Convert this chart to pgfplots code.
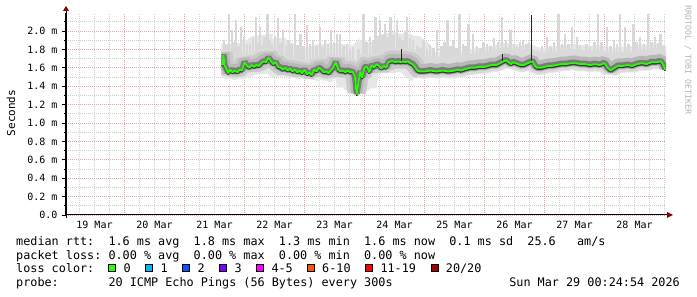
\documentclass[border=0pt]{standalone}
\usepackage{pgfplots}
\pgfplotsset{compat=1.18}
\usepackage{pgfplotstable}
\usepackage{fontspec}
\newfontfamily\dvm{DejaVu Sans Mono}
\newcommand\tickfont{\dvm\fontsize{10}{12}\selectfont}
\newcommand\legfont{\dvm\fontsize{11.8}{14}\selectfont}
\definecolor{rrdgreen}{HTML}{26FF00}
\definecolor{gridred}{HTML}{E8A4A4}
\definecolor{gridgray}{HTML}{CFCFCF}
\definecolor{arrowred}{HTML}{8B0000}
\definecolor{spikegray}{HTML}{D8D8D8}
\definecolor{palesmoke}{HTML}{E6E6E6}
\definecolor{lightsmoke}{HTML}{DADADA}
\definecolor{midsmoke}{HTML}{B8B8B8}
\definecolor{darksmoke}{HTML}{7A7A7A}
\definecolor{lossA}{HTML}{26FF00}
\definecolor{lossB}{HTML}{00B8FF}
\definecolor{lossC}{HTML}{0059FF}
\definecolor{lossD}{HTML}{7E00FF}
\definecolor{lossE}{HTML}{FF00FF}
\definecolor{lossF}{HTML}{FF5500}
\definecolor{lossG}{HTML}{FF0000}
\definecolor{lossH}{HTML}{A10000}
\definecolor{wmark}{HTML}{B4B4B4}

\pgfplotstableread{
d med
2.62 1.63
2.635 1.64
2.65 1.74
2.67 1.62
2.70 1.58
2.73 1.54
2.76 1.58
2.80 1.55
2.84 1.57
2.88 1.55
2.92 1.58
2.96 1.57
3.00 1.66
3.04 1.62
3.08 1.60
3.12 1.63
3.16 1.61
3.20 1.63
3.24 1.62
3.28 1.65
3.32 1.67
3.36 1.66
3.40 1.71
3.44 1.67
3.48 1.64
3.52 1.66
3.56 1.61
3.60 1.60
3.64 1.58
3.68 1.60
3.72 1.57
3.76 1.59
3.80 1.56
3.84 1.58
3.88 1.55
3.92 1.57
3.96 1.54
4.00 1.58
4.04 1.53
4.08 1.55
4.12 1.52
4.16 1.58
4.20 1.56
4.24 1.60
4.28 1.58
4.32 1.55
4.36 1.56
4.40 1.54
4.44 1.57
4.48 1.60
4.52 1.66
4.56 1.58
4.60 1.56
4.64 1.57
4.68 1.55
4.72 1.57
4.76 1.55
4.80 1.56
4.84 1.50
4.87 1.31
4.90 1.44
4.93 1.56
4.96 1.49
5.00 1.60
5.04 1.61
5.08 1.55
5.12 1.63
5.16 1.60
5.20 1.64
5.24 1.62
5.28 1.59
5.32 1.62
5.36 1.60
5.40 1.66
5.44 1.67
5.48 1.67
5.52 1.66
5.56 1.67
5.60 1.66
5.64 1.67
5.68 1.66
5.72 1.67
5.76 1.65
5.80 1.64
5.84 1.61
5.88 1.57
5.92 1.56
6.00 1.56
6.10 1.57
6.20 1.56
6.30 1.57
6.40 1.56
6.50 1.57
6.56 1.58
6.60 1.57
6.70 1.59
6.76 1.60
6.84 1.60
6.90 1.61
7.00 1.61
7.06 1.62
7.12 1.63
7.20 1.63
7.26 1.65
7.32 1.67
7.36 1.68
7.40 1.66
7.44 1.64
7.48 1.66
7.52 1.65
7.56 1.64
7.60 1.63
7.66 1.63
7.72 1.65
7.76 1.66
7.80 1.67
7.84 1.62
7.88 1.60
7.94 1.60
8.00 1.61
8.06 1.62
8.12 1.62
8.20 1.63
8.28 1.64
8.36 1.64
8.44 1.65
8.52 1.65
8.60 1.64
8.68 1.64
8.76 1.63
8.84 1.64
8.92 1.63
9.00 1.65
9.05 1.60
9.10 1.57
9.15 1.59
9.22 1.62
9.30 1.62
9.38 1.63
9.46 1.62
9.54 1.64
9.62 1.65
9.70 1.64
9.78 1.66
9.86 1.66
9.94 1.67
9.98 1.63
10.01 1.58
}\median

% spikes: top value t and downward length v (to about 1.60)
\pgfplotstableread{
d t v
2.66 1.90 -0.30
2.70 1.85 -0.25
2.74 2.18 -0.58
2.79 2.01 -0.41
2.83 1.88 -0.28
2.86 2.12 -0.52
2.90 1.84 -0.24
2.94 2.04 -0.44
2.99 1.93 -0.33
3.04 1.86 -0.26
3.09 1.86 -0.26
3.14 1.92 -0.32
3.19 2.15 -0.55
3.23 1.88 -0.28
3.26 2.04 -0.44
3.30 1.85 -0.25
3.33 1.94 -0.34
3.38 2.18 -0.58
3.42 1.90 -0.30
3.46 1.86 -0.26
3.51 1.95 -0.35
3.56 2.14 -0.54
3.60 1.87 -0.27
3.64 2.01 -0.41
3.69 1.84 -0.24
3.73 1.90 -0.30
3.78 1.86 -0.26
3.84 2.18 -0.58
3.88 1.85 -0.25
3.93 1.97 -0.37
3.98 1.84 -0.24
4.04 2.07 -0.47
4.09 1.86 -0.26
4.14 1.90 -0.30
4.20 1.85 -0.25
4.26 2.04 -0.44
4.30 1.83 -0.23
4.34 1.90 -0.30
4.39 1.86 -0.26
4.44 2.01 -0.41
4.49 1.88 -0.28
4.54 1.97 -0.37
4.59 1.97 -0.37
4.65 1.84 -0.24
4.71 1.86 -0.26
4.76 1.80 -0.20
4.81 1.83 -0.23
4.90 1.80 -0.20
4.98 2.18 -0.58
5.03 1.88 -0.28
5.09 1.94 -0.34
5.14 1.90 -0.30
5.18 2.15 -0.55
5.22 1.95 -0.35
5.26 2.12 -0.52
5.30 1.96 -0.36
5.34 2.08 -0.48
5.38 1.94 -0.34
5.43 2.15 -0.55
5.48 1.96 -0.36
5.54 2.12 -0.52
5.58 1.93 -0.33
5.63 1.90 -0.30
5.67 2.00 -0.40
5.71 2.15 -0.55
5.76 1.92 -0.32
5.81 1.90 -0.30
5.88 1.84 -0.24
5.93 1.82 -0.22
5.98 1.90 -0.30
6.04 1.80 -0.20
6.09 1.85 -0.25
6.15 1.82 -0.22
6.21 2.01 -0.41
6.28 1.84 -0.24
6.33 1.88 -0.28
6.38 2.12 -0.52
6.43 1.84 -0.24
6.48 1.90 -0.30
6.53 1.82 -0.22
6.58 2.18 -0.58
6.64 1.86 -0.26
6.68 1.84 -0.24
6.73 2.08 -0.48
6.81 1.97 -0.37
6.87 1.84 -0.24
6.93 1.82 -0.22
6.98 1.88 -0.28
7.04 1.86 -0.26
7.10 1.84 -0.24
7.16 1.92 -0.32
7.22 1.88 -0.28
7.29 2.15 -0.55
7.36 1.90 -0.30
7.43 2.01 -0.41
7.49 1.86 -0.26
7.54 1.83 -0.23
7.59 1.88 -0.28
7.64 1.90 -0.30
7.70 1.86 -0.26
7.74 1.88 -0.28
7.89 1.79 -0.19
7.96 1.84 -0.24
8.04 1.94 -0.34
8.10 1.84 -0.24
8.16 1.88 -0.28
8.23 2.18 -0.58
8.29 1.86 -0.26
8.34 1.97 -0.37
8.40 1.86 -0.26
8.46 2.04 -0.44
8.54 1.94 -0.34
8.59 1.84 -0.24
8.64 1.79 -0.19
8.70 1.86 -0.26
8.76 1.84 -0.24
8.83 1.88 -0.28
8.89 2.18 -0.58
8.95 1.88 -0.28
9.04 2.04 -0.44
9.10 1.84 -0.24
9.16 1.90 -0.30
9.21 1.86 -0.26
9.26 2.18 -0.58
9.34 2.04 -0.44
9.40 1.86 -0.26
9.48 2.08 -0.48
9.53 1.88 -0.28
9.59 1.94 -0.34
9.66 1.86 -0.26
9.72 2.18 -0.58
9.78 1.88 -0.28
9.84 1.94 -0.34
9.89 1.86 -0.26
9.93 1.97 -0.37
9.98 1.84 -0.24
}\spikes

\pgfplotstableread{
d t v
5.61 1.81 -0.17
7.30 1.75 -0.10
7.78 2.17 -0.50
}\darkspikes

\begin{document}
\begin{tikzpicture}[x=1pt,y=1pt]
\path (0,0) rectangle (697,297);
\begin{axis}[
  at={(66pt,82pt)}, anchor=south west,
  scale only axis, width=600pt, height=202pt,
  xmin=0.025, xmax=10.025, ymin=0, ymax=2.196,
  axis x line*=bottom, axis y line*=left,
  axis line style={black, line width=1pt},
  xtick={1,2,3,4,5,6,7,8,9}, xticklabels={},
  minor xtick={0.25,0.5,...,10},
  extra x ticks={0.5,1.5,2.5,3.5,4.5,5.5,6.5,7.5,8.5,9.5},
  extra x tick labels={19 Mar,20 Mar,21 Mar,22 Mar,23 Mar,24 Mar,25 Mar,26 Mar,27 Mar,28 Mar},
  extra x tick style={grid=none, major tick length=0pt},
  xtick style={draw=none},
  xticklabel style={yshift=-3pt},
  ytick={0,0.2,0.4,0.6,0.8,1.0,1.2,1.4,1.6,1.8,2.0},
  yticklabels={0.0,0.2 m,0.4 m,0.6 m,0.8 m,1.0 m,1.2 m,1.4 m,1.6 m,1.8 m,2.0 m},
  minor ytick={0.1,0.3,0.5,0.7,0.9,1.1,1.3,1.5,1.7,1.9,2.1},
  grid=both,
  major grid style={gridred, dash pattern=on 1pt off 1pt, line width=0.8pt},
  minor grid style={gridgray, dash pattern=on 1pt off 1pt, line width=0.8pt},
  ytick style={black, line width=0.8pt},
  tick align=outside,
  major tick length=4pt, minor tick length=2pt,
  ticklabel style={font=\tickfont},
  yticklabel style={xshift=-1pt},
  clip=true,
]
\begin{scope}
\clip (axis cs:2.615,0) rectangle (axis cs:10.03,2.196);
% smoke: widest pale layer (more scatter before 25 Mar)
\addplot[restrict x to domain=2.6:5.95, palesmoke, line width=40pt, line join=bevel, yshift=9pt]
  table[x=d, y=med] {\median};
\addplot[palesmoke, line width=26pt, line join=bevel, yshift=6pt]
  table[x=d, y=med] {\median};
% light gray spikes (max of the pings)
\addplot[spikegray, line width=2.4pt, mark=none, forget plot,
  quiver={u=0, v=\thisrow{v}}]
  table[x=d, y=t] {\spikes};
% smoke layers around the median
\addplot[lightsmoke, line width=20pt, line join=bevel, yshift=4pt]
  table[x=d, y=med] {\median};
\addplot[restrict x to domain=2.6:5.95, midsmoke!75!white, line width=18pt, line join=bevel, yshift=2pt]
  table[x=d, y=med] {\median};
\addplot[midsmoke, line width=11pt, line join=bevel, yshift=2pt]
  table[x=d, y=med] {\median};
\addplot[darksmoke, line width=6pt, line join=bevel, yshift=0.5pt]
  table[x=d, y=med] {\median};
\addplot[black!85, line width=1.2pt, mark=none, forget plot,
  quiver={u=0, v=\thisrow{v}}]
  table[x=d, y=t] {\darkspikes};
\addplot[black!80, line width=1.6pt, line join=bevel, yshift=-1.2pt]
  table[x=d, y=med] {\median};
% median rtt
\addplot[rrdgreen, line width=1.8pt, line join=bevel]
  table[x=d, y=med] {\median};
\end{scope}
\end{axis}
% axis extensions and arrow heads
\draw[black, line width=1pt] (66,79) -- (66,288);
\draw[black, line width=1pt] (662,82) -- (668,82);
\fill[arrowred] (63,286) -- (69,286) -- (66,291) -- cycle;
\fill[arrowred] (667,85) -- (667,79) -- (673,82) -- cycle;
% labels
\node[rotate=90, font=\dvm\fontsize{11}{13}\selectfont] at (11,184) {Seconds};
\node[rotate=-90, font=\dvm\fontsize{8.3}{10}\selectfont, text=wmark] at (688,237) {RRDTOOL / TOBI OETIKER};
% legend lines
\newcommand\seg[3]{\node[anchor=base west, inner sep=0pt, font=\legfont] at ({16+7.1*#1},#2) {#3};}
\seg{0}{51}{median rtt:}
\seg{13}{51}{1.6 ms avg}
\seg{25}{51}{1.8 ms max}
\seg{37}{51}{1.3 ms min}
\seg{49}{51}{1.6 ms now}
\seg{61}{51}{0.1 ms sd}
\seg{72}{51}{25.6}
\seg{79}{51}{am/s}
\seg{0}{37.5}{packet loss:}
\seg{13}{37.5}{0.00 \% avg}
\seg{25}{37.5}{0.00 \% max}
\seg{37}{37.5}{0.00 \% min}
\seg{49}{37.5}{0.00 \% now}
\seg{0}{24}{loss color:}
\foreach \xx/\cc/\tt in {108.3/lossA/0, 145.3/lossB/1, 182.3/lossC/2, 219.3/lossD/3, 256.3/lossE/4-5, 307/lossF/6-10, 365.3/lossG/11-19, 430.7/lossH/20\slash 20}{
  \filldraw[fill=\cc, draw=black, line width=0.9pt] (\xx+0.5,25.5) rectangle (\xx+7.5,32.5);
  \node[anchor=base west, inner sep=0pt, font=\legfont] at (\xx+15,24) {\tt};
}
\seg{0}{10.5}{probe:}
\seg{13}{10.5}{20 ICMP Echo Pings (56 Bytes) every 300s}
\node[anchor=base east, inner sep=0pt, font=\legfont] at (680,10.5) {Sun Mar 29 00:24:54 2026};
\pgfresetboundingbox
\path[use as bounding box] (0,0) rectangle (697,297);
\end{tikzpicture}
\end{document}
